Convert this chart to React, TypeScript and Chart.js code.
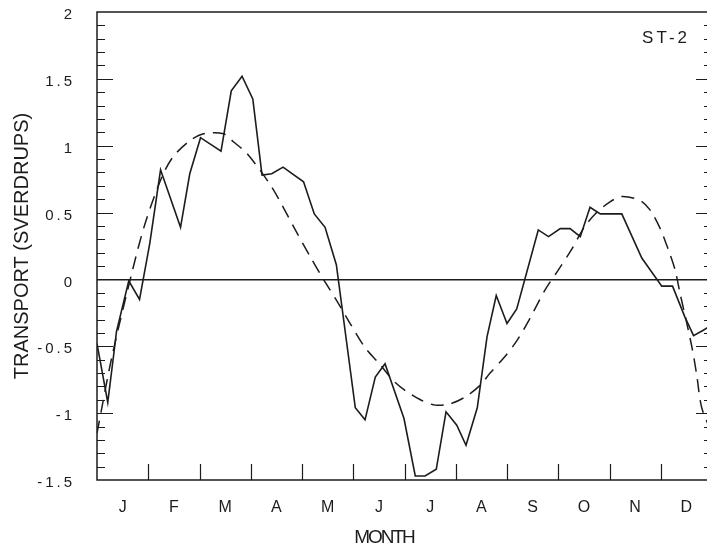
import React, { useEffect, useRef } from "react";
import { Chart, registerables } from "chart.js";

Chart.register(...registerables);

const MONTHS = ["J", "F", "M", "A", "M", "J", "J", "A", "S", "O", "N", "D"];
const Y_MIN = -1.5;
const Y_MAX = 2;
const Y_STEP = 0.5;
const PANEL_LABEL = "ST-2";
const X_TITLE = "MONTH";
const Y_TITLE = "TRANSPORT (SVERDRUPS)";

// observed transport (solid line): month position (0 = 1 Jan, 12 = 31 Dec) and value
const OBS_MONTH = [
  0.0, 0.21, 0.32, 0.38, 0.62, 0.83, 1.03, 1.24, 1.63, 1.81, 2.02, 2.42, 2.62, 2.83,
  3.04, 3.22, 3.41, 3.63, 4.03, 4.24, 4.45, 4.67, 5.04, 5.23, 5.43, 5.62, 5.99, 6.21,
  6.4, 6.62, 6.81, 7.02, 7.2, 7.42, 7.61, 7.79, 8.0, 8.19, 8.61, 8.81, 9.04, 9.23,
  9.43, 9.62, 9.82, 10.24, 10.63, 11.02, 11.23, 11.47, 11.64, 11.83, 12.0,
];
const OBS_VALUE = [
  -0.48, -0.92, -0.58, -0.39, -0.01, -0.15, 0.27, 0.82, 0.39, 0.79, 1.06, 0.96, 1.41, 1.52,
  1.35, 0.78, 0.79, 0.84, 0.73, 0.49, 0.39, 0.11, -0.96, -1.05, -0.73, -0.63, -1.04, -1.47,
  -1.47, -1.42, -0.99, -1.09, -1.24, -0.96, -0.43, -0.12, -0.33, -0.22, 0.37, 0.32, 0.38, 0.38,
  0.32, 0.54, 0.49, 0.49, 0.16, -0.05, -0.05, -0.28, -0.42, -0.38, -0.34,
];

// fitted curve (dashed line)
const FIT_MONTH = [
  0.0, 0.29, 0.7, 0.94, 1.27, 1.49, 1.82, 2.08, 2.47, 2.66, 2.93, 3.41, 3.87, 4.16,
  4.42, 4.68, 4.94, 5.23, 5.53, 5.79, 6.01, 6.31, 6.6, 6.89, 7.18, 7.48, 7.67, 7.93,
  8.19, 8.45, 8.74, 9.0, 9.27, 9.49, 9.72, 10.01, 10.24, 10.6, 10.79, 10.99, 11.15,
  11.28, 11.38, 11.48, 11.61, 11.7, 11.8, 12.0,
];
const FIT_VALUE = [
  -1.15, -0.58, 0.08, 0.42, 0.77, 0.92, 1.04, 1.09, 1.09, 1.03, 0.94, 0.69, 0.37, 0.17,
  0.0, -0.16, -0.33, -0.51, -0.64, -0.76, -0.83, -0.9, -0.94, -0.93, -0.88, -0.79, -0.7, -0.59,
  -0.46, -0.29, -0.08, 0.07, 0.23, 0.38, 0.49, 0.58, 0.62, 0.59, 0.52, 0.38, 0.22,
  0.07, -0.11, -0.28, -0.51, -0.71, -0.96, -1.15,
];

const INK = "#1c1c1c";
const FONT = '"Liberation Sans", Arial, Helvetica, sans-serif';

const decorPlugin = {
  id: "decor",
  afterDatasetsDraw(chart: any) {
    // y tick labels (drawn after datasets, z: 1) are spaced out like the original
    (chart.ctx as any).letterSpacing = "3px";
  },
  afterDraw(chart: any) {
    const { ctx, chartArea: a, scales } = chart;
    (ctx as any).letterSpacing = "0px";
    const xs = scales.x;
    const ys = scales.y;
    ctx.save();
    ctx.strokeStyle = INK;
    ctx.lineWidth = 1.5;
    ctx.beginPath();
    ctx.moveTo(a.left, a.top);
    ctx.lineTo(a.right, a.top);
    ctx.lineTo(a.right, a.bottom);
    ctx.lineTo(a.left, a.bottom);
    ctx.closePath();
    ctx.stroke();

    // y ticks (major every 0.5, minor every 0.1) on both sides, pointing inward
    ctx.lineWidth = 1.2;
    ctx.beginPath();
    const n = Math.round((Y_MAX - Y_MIN) / 0.1);
    for (let i = 1; i < n; i++) {
      const v = Y_MIN + i * 0.1;
      const py = Math.round(ys.getPixelForValue(v)) + 0.5;
      const len = i % 5 === 0 ? 16 : 8;
      ctx.moveTo(a.left, py);
      ctx.lineTo(a.left + len, py);
      ctx.moveTo(a.right, py);
      ctx.lineTo(a.right - len, py);
    }
    // month boundary ticks on bottom axis
    for (let m = 1; m < 12; m++) {
      const px = Math.round(xs.getPixelForValue(m)) + 0.5;
      ctx.moveTo(px, a.bottom);
      ctx.lineTo(px, a.bottom - 16);
    }
    ctx.stroke();

    // panel label and x title
    ctx.fillStyle = INK;
    ctx.textBaseline = "alphabetic";
    ctx.font = `17px ${FONT}`;
    (ctx as any).letterSpacing = "3px";
    ctx.textAlign = "right";
    ctx.fillText(PANEL_LABEL, a.right - 22, a.top + 31);
    ctx.font = `19px ${FONT}`;
    (ctx as any).letterSpacing = "-2px";
    ctx.textAlign = "center";
    ctx.fillText(X_TITLE, a.left + 287, a.bottom + 63);
    (ctx as any).letterSpacing = "0px";
    ctx.restore();
  },
};

export default function App() {
  const canvasRef = useRef<HTMLCanvasElement | null>(null);

  useEffect(() => {
    const canvas = canvasRef.current;
    if (!canvas) return;
    const chart = new Chart(canvas, {
      type: "line",
      data: {
        datasets: [
          {
            label: "observed",
            data: OBS_MONTH.map((m, i) => ({ x: m, y: OBS_VALUE[i] })),
            borderColor: INK,
            borderWidth: 1.6,
            pointRadius: 0,
            tension: 0,
            fill: false,
            xAxisID: "x",
            yAxisID: "y",
          },
          {
            label: "fit",
            data: FIT_MONTH.map((m, i) => ({ x: m, y: FIT_VALUE[i] })),
            borderColor: INK,
            borderWidth: 1.5,
            borderDash: [13, 8],
            pointRadius: 0,
            tension: 0.3,
            fill: false,
            xAxisID: "x",
            yAxisID: "y",
          },
        ],
      },
      options: {
        animation: false,
        responsive: false,
        maintainAspectRatio: false,
        layout: { padding: { left: 0, right: 18, top: 12, bottom: 0 } },
        plugins: {
          legend: { display: false },
          tooltip: { enabled: false },
        },
        scales: {
          x: {
            type: "linear",
            min: 0,
            max: 12,
            display: false,
          },
          months: {
            type: "category",
            labels: MONTHS,
            position: "bottom",
            offset: true,
            grid: { display: false, drawTicks: false },
            border: { display: false },
            ticks: {
              color: INK,
              padding: 18,
              font: { size: 16, family: FONT },
              maxRotation: 0,
              autoSkip: false,
            },
            afterFit: (s: any) => {
              s.height = 71;
              s.paddingLeft = 0;
              s.paddingRight = 0;
            },
          },
          y: {
            type: "linear",
            position: "left",
            min: Y_MIN,
            max: Y_MAX,
            ticks: {
              stepSize: Y_STEP,
              color: INK,
              padding: 22,
              labelOffset: 3,
              z: 1,
              font: { size: 15, family: FONT },
              callback: (v: any) => String(Number(v)),
            },
            grid: {
              drawTicks: false,
              lineWidth: 1.5,
              color: (c: any) => (c.tick && c.tick.value === 0 ? INK : "rgba(0,0,0,0)"),
            },
            border: { display: false },
            title: {
              display: true,
              text: Y_TITLE,
              color: INK,
              font: { size: 20, family: FONT },
              padding: { top: 10, bottom: 0 },
            },
            afterFit: (s: any) => {
              s.width = 97;
              s.paddingTop = 0;
              s.paddingBottom = 0;
            },
          },
        },
      },
      plugins: [decorPlugin],
    });
    return () => chart.destroy();
  }, []);

  return (
    <div
      style={{
        position: "fixed",
        left: 0,
        top: 0,
        width: 707,
        height: 551,
        overflow: "hidden",
        background: "#fff",
      }}
    >
      <canvas ref={canvasRef} width={730} height={551} style={{ display: "block" }} />
    </div>
  );
}
